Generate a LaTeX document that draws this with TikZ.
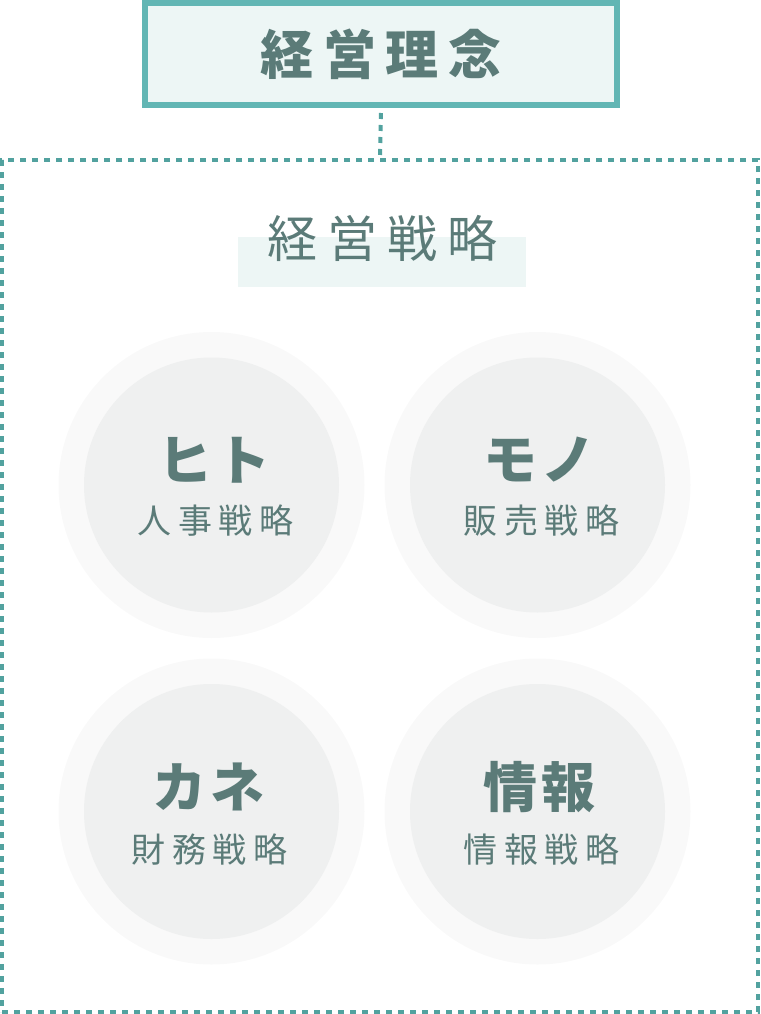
\documentclass[tikz,border=0pt]{standalone}
\usepackage{fontspec}
\newfontfamily\jpfontls[LetterSpace=18]{Noto Sans CJK JP}
\newfontfamily\jpfonthd[LetterSpace=8]{Noto Sans CJK JP}
\newfontfamily\jpfontsub[LetterSpace=20]{Noto Sans CJK JP}
\definecolor{txtcol}{HTML}{5B7B78}
\definecolor{boxline}{HTML}{62B6B4}
\definecolor{dotline}{HTML}{52A29F}
\definecolor{boxfill}{HTML}{EDF6F5}
\definecolor{ringfill}{HTML}{F9F9F9}
\definecolor{discfill}{HTML}{EFF0F0}
\tikzset{
  titletxt/.style={text=txtcol, inner sep=0, font=\jpfontls\bfseries\fontsize{53}{60}\selectfont},
  headtxt/.style={text=txtcol, inner sep=0, font=\jpfonthd\bfseries\fontsize{54}{60}\selectfont},
  subtxt/.style={text=txtcol, inner sep=0, font=\jpfontsub\fontsize{34}{40}\selectfont},
  ring/.style={circle, fill=ringfill, minimum size=306, inner sep=0},
  disc/.style={circle, fill=discfill, minimum size=255, inner sep=0},
  dotted line/.style={draw=dotline, line width=4, dash pattern=on 6 off 6},
}
\begin{document}
\begin{tikzpicture}[x=1pt,y=-1pt]
\useasboundingbox (0,0) rectangle (760,1014);
\node[draw=boxline, line width=6, fill=boxfill, minimum width=472, minimum height=102, inner sep=0] (rinen) at (381,54){};
\node[titletxt] (rinentxt) at (381,54){経営理念};
\node[dotted line, minimum width=756, minimum height=852, inner sep=0] (senryaku) at (380,586){};
\draw[dotted line, shorten <=5](rinen.south) -- (senryaku.north);
\node[fill=boxfill, minimum width=288, minimum height=50, inner sep=0] (band) at (382,262){};
\node[text=txtcol, inner sep=0, font=\jpfontsub\fontsize{50}{60}\selectfont] (senryakutxt) at (382.5,238){経営戦略};
\node[ring] (r0) at (211.5,485){};
\node[disc] (d0) at (211.5,485){};
\node[headtxt] (h0) at (214.5,460){ヒト};
\node[subtxt] (s0) at (215.5,521){人事戦略};
\node[ring] (r1) at (537.5,485){};
\node[disc] (d1) at (537.5,485){};
\node[headtxt] (h1) at (539.5,460){モノ};
\node[subtxt] (s1) at (541.5,521){販売戦略};
\node[ring] (r2) at (211.5,811.5){};
\node[disc] (d2) at (211.5,811.5){};
\node[headtxt] (h2) at (208.5,787){カネ};
\node[subtxt] (s2) at (209.5,850){財務戦略};
\node[ring] (r3) at (537.5,811.5){};
\node[disc] (d3) at (537.5,811.5){};
\node[headtxt] (h3) at (539.5,787){情報};
\node[subtxt] (s3) at (541.5,850){情報戦略};
\end{tikzpicture}
\end{document}
